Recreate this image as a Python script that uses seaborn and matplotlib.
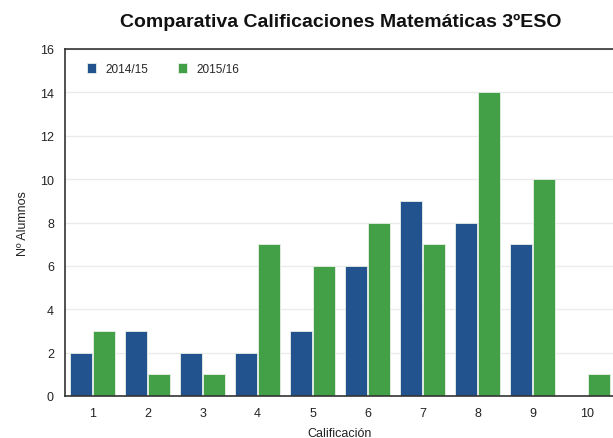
import matplotlib
matplotlib.use("Agg")
import matplotlib.pyplot as plt
import seaborn as sns
import pandas as pd

notas = ["1", "2", "3", "4", "5", "6", "7", "8", "9", "10"]
curso_2014 = [2, 3, 2, 2, 3, 6, 9, 8, 7, 0]
curso_2015 = [3, 1, 1, 7, 6, 8, 7, 14, 10, 1]
series = ["2014/15", "2015/16"]
colores = ["#22538f", "#43a047"]

df = pd.DataFrame({
    "Calificación": notas * 2,
    "Alumnos": curso_2014 + curso_2015,
    "Curso": [series[0]] * len(notas) + [series[1]] * len(notas),
})

sns.set_theme(style="white")
plt.rcParams["font.family"] = ["Liberation Sans", "DejaVu Sans"]

fig = plt.figure(figsize=(6.13, 4.39), dpi=100)
ax = fig.add_axes([65 / 613, 42 / 439, 550 / 613, 347 / 439])

sns.barplot(data=df, x="Calificación", y="Alumnos", hue="Curso",
            palette=colores, saturation=1, width=0.84, gap=0.06, ax=ax,
            edgecolor="#e8f0e8", linewidth=0.6, errorbar=None)

ax.set_ylim(0, 16)
ax.set_xlim(-0.5, 9.5)
ax.set_yticks(range(0, 17, 2))
ax.yaxis.grid(True, color="#ebebeb", linewidth=1)
ax.set_axisbelow(True)
ax.tick_params(axis="both", labelsize=9, colors="#222222", length=0, pad=8)

for side in ["top", "left", "bottom"]:
    ax.spines[side].set_color("#333333")
    ax.spines[side].set_linewidth(1.2)
ax.spines["right"].set_visible(False)

ax.set_xlabel("Calificación", fontsize=9, color="#222222", labelpad=6)
ax.set_ylabel("Nº Alumnos", fontsize=9, color="#222222", labelpad=8)
fig.text(341 / 613, 1 - 22 / 439, "Comparativa Calificaciones Matemáticas 3ºESO",
         fontsize=14, fontweight="bold", color="#111111", ha="center", va="center")

ax.legend(loc="upper left", frameon=False, ncol=2, fontsize=8.5,
          handlelength=0.8, handleheight=0.8, columnspacing=2.5,
          bbox_to_anchor=(0.02, 0.99), handletextpad=0.8)

fig.savefig("out.png", dpi=100)
